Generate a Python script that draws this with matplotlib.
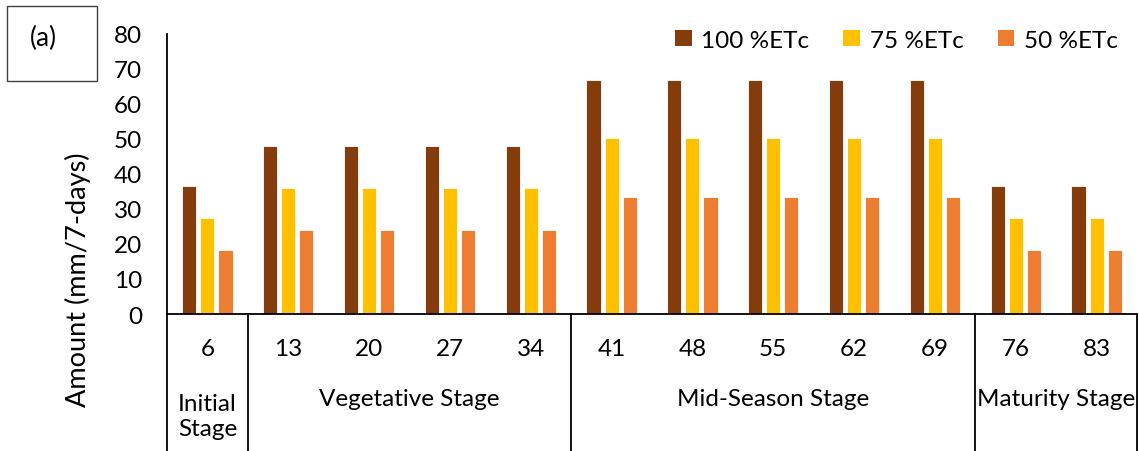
import matplotlib
matplotlib.use("Agg")
import matplotlib.pyplot as plt
from matplotlib.patches import Rectangle, Patch
import numpy as np

plt.rcParams['font.family'] = ['Lato', 'DejaVu Sans']

# Days after sowing (category labels) and crop stages
days = ["6", "13", "20", "27", "34", "41", "48", "55", "62", "69", "76", "83"]
stages = ["Initial\nStage", "Vegetative Stage", "Mid-Season Stage", "Maturity Stage"]
stage_spans = [(0, 0), (1, 4), (5, 9), (10, 11)]

# Irrigation amounts (mm per 7 days)
etc_100 = [36.7, 47.9, 47.9, 47.9, 47.9, 67.0, 67.0, 67.0, 67.0, 67.0, 36.7, 36.7]
etc_75 = [27.5, 35.9, 35.9, 35.9, 35.9, 50.25, 50.25, 50.25, 50.25, 50.25, 27.5, 27.5]
etc_50 = [18.35, 23.95, 23.95, 23.95, 23.95, 33.5, 33.5, 33.5, 33.5, 33.5, 18.35, 18.35]

series_labels = ["100 %ETc", "75 %ETc", "50 %ETc"]
colors = ["#843C0C", "#FFC000", "#ED7D31"]

FS = 17.5

W, H = 1139, 452
fig = plt.figure(figsize=(W / 100, H / 100), dpi=100)
ax_left, ax_right, ax_bot, ax_top = 167, 1137, 315, 35
ax = fig.add_axes([ax_left / W, 1 - ax_bot / H, (ax_right - ax_left) / W, (ax_bot - ax_top) / H])

x = np.arange(len(days))
bw = 0.175
off = 0.223
for vals, c, lab, o in zip([etc_100, etc_75, etc_50], colors, series_labels, [-off, 0, off]):
    ax.bar(x + o, vals, width=bw, color=c, edgecolor="#ffffff", linewidth=0.6, label=lab, zorder=2)

ax.set_xlim(-0.5, len(days) - 0.5)
ax.set_ylim(0, 80)
ax.set_yticks(np.arange(0, 81, 10))
ax.tick_params(axis="y", length=0, pad=18, labelsize=FS, colors="black")
ax.set_xticks([])
for s in ["top", "right"]:
    ax.spines[s].set_visible(False)
ax.spines["left"].set_linewidth(1.3)
ax.spines["bottom"].set_linewidth(1.3)

# Category area below the axis
ext = -(H - ax_bot) / (ax_bot - ax_top)
trans = ax.get_xaxis_transform()
for xv in [-0.5, 0.5, 4.5, 9.5, 11.5]:
    ax.plot([xv, xv], [0, ext], transform=trans, color="black", lw=1.3, clip_on=False)

day_y = -(350 - ax_bot) / (ax_bot - ax_top)
for xi, d in zip(x, days):
    ax.text(xi, day_y, d, transform=trans, ha="center", va="center", fontsize=FS)

stage_y = -(400 - ax_bot) / (ax_bot - ax_top)
for (a, b), st in zip(stage_spans, stages):
    cx = (a + b) / 2
    if "\n" in st:
        yy = -(417 - ax_bot) / (ax_bot - ax_top)
        ax.text(cx, yy, st, transform=trans, ha="center", va="center", fontsize=FS, linespacing=1.2)
    else:
        ax.text(cx, stage_y, st, transform=trans, ha="center", va="center", fontsize=FS)

fig.text(78 / W, 1 - 280 / H, "Amount (mm/7-days)", rotation=90, ha="center", va="center", fontsize=19.5)

# Panel tag
fig.patches.append(Rectangle((7 / W, 1 - 82 / H), 90 / W, 75 / H, transform=fig.transFigure,
                             fill=False, edgecolor="#404040", lw=1.0))
fig.text(43 / W, 1 - 38 / H, "(a)", ha="center", va="center", fontsize=19)

handles = [Patch(facecolor=c, edgecolor="none") for c in colors]
fig.legend(handles, series_labels, loc="center left", bbox_to_anchor=(675 / W, 1 - 41 / H),
           ncol=3, frameon=False, fontsize=FS, handlelength=0.68, handleheight=0.68,
           handletextpad=0.4, columnspacing=1.4, borderpad=0, borderaxespad=0)

fig.savefig("out.png", dpi=100)
